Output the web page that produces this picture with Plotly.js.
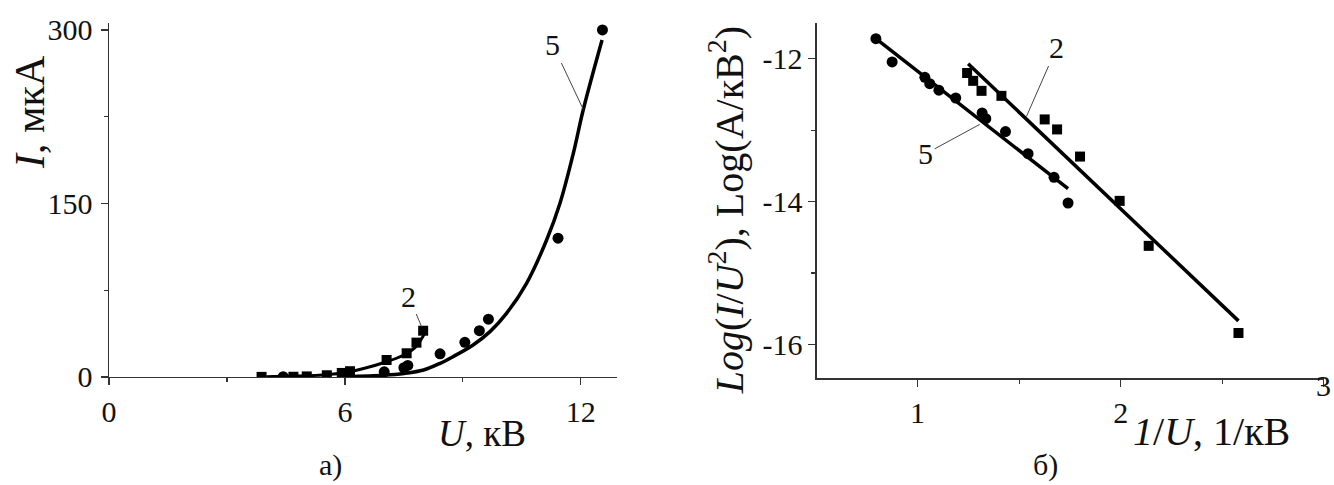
<!DOCTYPE html>
<html>
<head>
<meta charset="utf-8">
<script src="https://cdn.plot.ly/plotly-3.0.1.min.js"></script>
<style>html,body{margin:0;padding:0;background:#fff;}#chart{width:1334px;height:485px;}</style>
</head>
<body>
<div id="chart"></div>
<script>
// ---- Panel a): I(U) ----
var sq_U = [3.88, 4.69, 5.03, 5.54, 5.92, 6.13, 7.06, 7.57, 7.82, 7.99];
var sq_I = [0.1, 0.2, 0.5, 1.5, 3.5, 5.0, 14.7, 20.5, 29.7, 40];
var ci_U = [4.43, 7.0, 7.5, 7.6, 8.42, 9.05, 9.42, 9.65, 11.42, 12.55];
var ci_I = [0.3, 4.5, 8, 10, 20, 30, 40, 50, 120, 300];
var fit5_U = [6.0, 7.0, 7.5, 8.0, 8.42, 8.75, 9.26, 9.69, 10.11, 10.62, 11.13, 11.47, 11.81, 12.06, 12.54];
var fit5_I = [0.3, 1.5, 3.0, 6.0, 11.8, 17.6, 27.7, 39.2, 55, 81, 118.4, 150.2, 193.4, 230.8, 291.3];
var fit2_U = [4.0, 5.0, 5.5, 6.0, 6.5, 7.0, 7.5, 7.8, 8.05];
var fit2_I = [0.3, 1.0, 2.0, 3.7, 7.5, 12.5, 19, 26, 39];

// ---- Panel б): Fowler–Nordheim coordinates ----
var ci_invU = [0.795, 0.875, 1.036, 1.06, 1.105, 1.188, 1.318, 1.336, 1.433, 1.544, 1.672, 1.741];
var ci_logJ = [-11.72, -12.045, -12.26, -12.35, -12.44, -12.55, -12.76, -12.84, -13.02, -13.33, -13.66, -14.02];
var sq_invU = [1.244, 1.274, 1.315, 1.413, 1.626, 1.687, 1.80, 1.995, 2.138, 2.58];
var sq_logJ = [-12.2, -12.31, -12.45, -12.52, -12.85, -12.99, -13.37, -13.99, -14.62, -15.84];
var line5_invU = [0.795, 1.741];
var line5_logJ = [-11.72, -13.82];
var line2_invU = [1.249, 2.58];
var line2_logJ = [-12.07, -15.67];

// tick labels
var a_xticks = [0, 6, 12];
var a_yticks = [0, 150, 300];
var b_xticks = [1, 2, 3];
var b_yticks = [-12, -14, -16];

var FONT = "Liberation Serif, serif";
var INK = "#000";
var AX = "#333";
var TXT = "#111";

var traces = [
  {x: fit5_U, y: fit5_I, mode: "lines", line: {color: INK, width: 3.5, shape: "spline"}, xaxis: "x", yaxis: "y", hoverinfo: "skip"},
  {x: fit2_U, y: fit2_I, mode: "lines", line: {color: INK, width: 3, shape: "spline"}, xaxis: "x", yaxis: "y", hoverinfo: "skip"},
  {x: sq_U, y: sq_I, mode: "markers", marker: {symbol: "square", size: 10, color: INK}, xaxis: "x", yaxis: "y"},
  {x: ci_U, y: ci_I, mode: "markers", marker: {symbol: "circle", size: 11, color: INK}, xaxis: "x", yaxis: "y"},
  {x: line5_invU, y: line5_logJ, mode: "lines", line: {color: INK, width: 3.5}, xaxis: "x2", yaxis: "y2"},
  {x: line2_invU, y: line2_logJ, mode: "lines", line: {color: INK, width: 3.5}, xaxis: "x2", yaxis: "y2"},
  {x: sq_invU, y: sq_logJ, mode: "markers", marker: {symbol: "square", size: 10, color: INK}, xaxis: "x2", yaxis: "y2"},
  {x: ci_invU, y: ci_logJ, mode: "markers", marker: {symbol: "circle", size: 11, color: INK}, xaxis: "x2", yaxis: "y2"}
];

function axisBase() {
  return {
    showgrid: false, zeroline: false, showline: true, linecolor: AX, linewidth: 1.5,
    ticks: "outside", ticklen: 7, tickwidth: 1.3, tickcolor: AX,
    tickfont: {family: FONT, size: 30, color: TXT},
    minor: {ticks: "outside", ticklen: 4, tickwidth: 1.2, tickcolor: AX, showgrid: false},
    fixedrange: true
  };
}

var xa = Object.assign(axisBase(), {domain: [0.08171, 0.46252], range: [0, 12.92], tickvals: a_xticks, ticktext: a_xticks.map(String), anchor: "y", ticklabelstandoff: 1});
xa.minor.dtick = 3; xa.minor.tick0 = 0;
var ya = Object.assign(axisBase(), {domain: [0.2227, 0.9526], range: [0, 306], tickvals: a_yticks, ticktext: a_yticks.map(String), anchor: "x", ticklabelstandoff: 2});
ya.minor.dtick = 75; ya.minor.tick0 = 0;
// the "3" of panel б) sits raised at the axis end in the reference, so it is placed as a label below
var xb = Object.assign(axisBase(), {domain: [0.61244, 0.9925], range: [0.505, 3.001], tickvals: b_xticks, ticktext: ["1", "2", ""], anchor: "y2", ticklabelstandoff: 0});
xb.minor.dtick = 0.5; xb.minor.tick0 = 0;
var yb = Object.assign(axisBase(), {domain: [0.2206, 0.9526], range: [-16.47, -11.5], tickvals: b_yticks, ticktext: b_yticks.map(String), anchor: "x2", ticklabelstandoff: 0});
yb.minor.dtick = 1; yb.minor.tick0 = 0;

function lbl(text, x, y, xref, yref, size, extra) {
  return Object.assign({text: text, x: x, y: y, xref: xref, yref: yref, showarrow: false,
    font: {family: FONT, size: size, color: TXT}, xanchor: "center", yanchor: "middle"}, extra || {});
}
function leader(text, tx, ty, lx, ly, xref, yref) {
  return {text: text, x: tx, y: ty, ax: lx, ay: ly, xref: xref, yref: yref, axref: xref, ayref: yref,
    showarrow: true, arrowhead: 0, arrowwidth: 1, arrowcolor: "#444", standoff: 0,
    font: {family: FONT, size: 30, color: TXT}};
}

var annotations = [
  lbl("<i>I</i>, мкА", 0.0225, 0.769, "paper", "paper", 42, {textangle: -90}),
  lbl("<i>U</i>, кВ", 0.3613, 0.1072, "paper", "paper", 37),
  lbl("а)", 0.2474, 0.0412, "paper", "paper", 30),
  lbl("<i>Log</i>(<i>I</i>/<i>U</i><sup>2</sup>), Log(A/кВ<sup>2</sup>)", 0.5445, 0.567, "paper", "paper", 40, {textangle: -90}),
  lbl("<i>1</i>/<i>U</i>, 1/кВ", 0.9085, 0.1093, "paper", "paper", 40),
  lbl("3", 0.9925, 0.2046, "paper", "paper", 30),
  lbl("б)", 0.784, 0.0412, "paper", "paper", 30),
  leader("2", 7.95, 43.5, 7.62, 70, "x", "y"),
  leader("5", 12.06, 231.4, 11.29, 287, "x", "y"),
  leader("2", 1.536, -12.81, 1.684, -11.85, "x2", "y2"),
  leader("5", 1.306, -12.92, 1.04, -13.33, "x2", "y2")
];

var layout = {
  width: 1334, height: 485,
  margin: {l: 0, r: 0, t: 0, b: 0},
  paper_bgcolor: "#fff", plot_bgcolor: "#fff",
  showlegend: false,
  xaxis: xa, yaxis: ya, xaxis2: xb, yaxis2: yb,
  annotations: annotations,
  font: {family: FONT}
};

Plotly.newPlot("chart", traces, layout, {staticPlot: true, displayModeBar: false});
</script>
</body>
</html>
